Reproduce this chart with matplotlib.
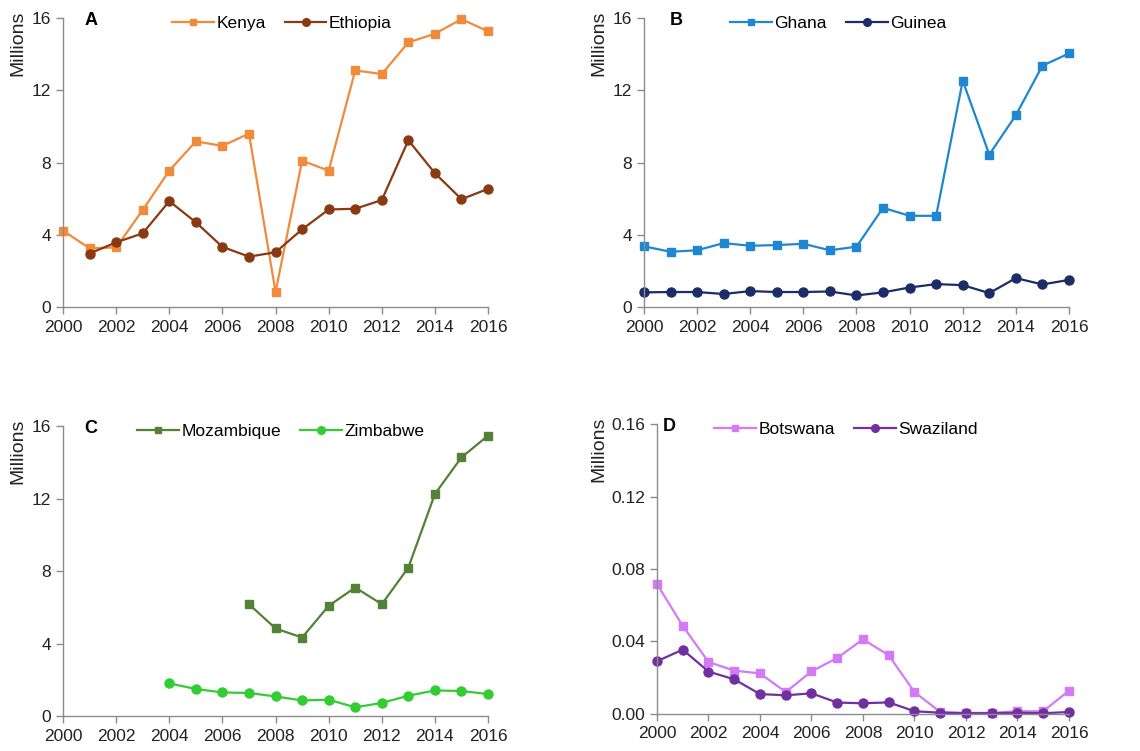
import numpy as np
import matplotlib
matplotlib.use("Agg")
import matplotlib.pyplot as plt

plt.rcParams["font.family"] = ["Liberation Sans", "DejaVu Sans"]

YEARS = list(range(2000, 2017))

# Panel A
KENYA = [4.23, 3.25, 3.30, 5.37, 7.55, 9.17, 8.92, 9.60, 0.83, 8.10,
         7.55, 13.10, 12.90, 14.65, 15.13, 15.94, 15.26]
ETHIOPIA = [np.nan, 2.96, 3.58, 4.08, 5.86, 4.69, 3.33, 2.79, 3.03, 4.30,
            5.40, 5.44, 5.92, 9.23, 7.41, 5.97, 6.54]

# Panel B
GHANA = [3.36, 3.06, 3.14, 3.54, 3.39, 3.43, 3.50, 3.14, 3.34, 5.49,
         5.05, 5.05, 12.53, 8.44, 10.62, 13.36, 14.04]
GUINEA = [0.81, 0.83, 0.83, 0.72, 0.88, 0.83, 0.83, 0.86, 0.64, 0.81,
          1.08, 1.27, 1.21, 0.77, 1.60, 1.25, 1.50]

# Panel C
MOZAMBIQUE = [np.nan] * 7 + [6.17, 4.83, 4.33, 6.08, 7.09, 6.17, 8.19,
                             12.25, 14.27, 15.47]
ZIMBABWE = [np.nan] * 4 + [1.80, 1.49, 1.30, 1.27, 1.08, 0.86, 0.90, 0.48,
                           0.72, 1.12, 1.41, 1.38, 1.21]

# Panel D
BOTSWANA = [0.0717, 0.0486, 0.0287, 0.0239, 0.0224, 0.0121, 0.0235, 0.0309,
            0.0412, 0.0324, 0.0121, 0.0011, 0.0006, 0.0006, 0.0015, 0.0015,
            0.0129]
SWAZILAND = [0.0291, 0.0355, 0.0234, 0.0191, 0.0110, 0.0103, 0.0114, 0.0063,
             0.0059, 0.0064, 0.0015, 0.0007, 0.0004, 0.0004, 0.0007, 0.0004,
             0.0011]

PANELS = [
    # label, rect, series (name, values, color, marker), y ticks, fmt, label x, legend x, ylabel x
    ("A", [0.0553, 0.5912, 0.3728, 0.3848],
     [("Kenya", KENYA, "#F28A3C", "s"), ("Ethiopia", ETHIOPIA, "#8A3A12", "o")],
     [0, 4, 8, 12, 16], "{:.0f}", 0.05, 0.515, -0.106),
    ("B", [0.5649, 0.5912, 0.3728, 0.3848],
     [("Ghana", GHANA, "#1F86D2", "s"), ("Guinea", GUINEA, "#1C2C66", "o")],
     [0, 4, 8, 12, 16], "{:.0f}", 0.06, 0.457, -0.106),
    ("C", [0.0553, 0.0466, 0.3728, 0.3861],
     [("Mozambique", MOZAMBIQUE, "#538135", "s"), ("Zimbabwe", ZIMBABWE, "#33CC33", "o")],
     [0, 4, 8, 12, 16], "{:.0f}", 0.05, 0.513, -0.106),
    ("D", [0.5763, 0.0493, 0.3614, 0.3861],
     [("Botswana", BOTSWANA, "#D47AF7", "s"), ("Swaziland", SWAZILAND, "#7030A0", "o")],
     [0, 0.04, 0.08, 0.12, 0.16], "{:.2f}", 0.015, 0.459, -0.141),
]

fig = plt.figure(figsize=(11.4, 7.51), dpi=100)
spine_col = "#8C8C8C"

for label, rect, series, yticks, fmt, lab_x, leg_x, ylab_x in PANELS:
    ax = fig.add_axes(rect)
    for name, vals, color, marker in series:
        ax.plot(YEARS, vals, color=color, lw=1.6, marker=marker,
                ms=5.5 if marker == "s" else 6.5, label=name, clip_on=False)
    ax.set_xlim(2000, 2016)
    ax.set_ylim(yticks[0], yticks[-1])
    ax.set_xticks(range(2000, 2017, 2))
    ax.set_yticks(yticks)
    ax.set_yticklabels([fmt.format(t) for t in yticks])
    for side in ("top", "right"):
        ax.spines[side].set_visible(False)
    for side in ("left", "bottom"):
        ax.spines[side].set_color(spine_col)
        ax.spines[side].set_linewidth(1.0)
    ax.tick_params(axis="both", direction="out", color=spine_col, length=5,
                   width=1.0, labelsize=12.5, colors="#222222")
    ax.tick_params(axis="x", pad=4)
    ax.text(lab_x, 1.02, label, transform=ax.transAxes, fontsize=13,
            fontweight="bold", va="top", ha="left")
    ax.text(ylab_x, 1.025, "Millions", transform=ax.transAxes, rotation=90,
            fontsize=14, ha="center", va="top", color="#222222")
    ax.legend(loc="upper center", bbox_to_anchor=(leg_x, 1.03), ncol=2,
              frameon=False, fontsize=12.5, handlelength=2.4, markerscale=0.85,
              handletextpad=0.15, columnspacing=1.1, borderaxespad=0)

fig.savefig("out.png", dpi=100)
